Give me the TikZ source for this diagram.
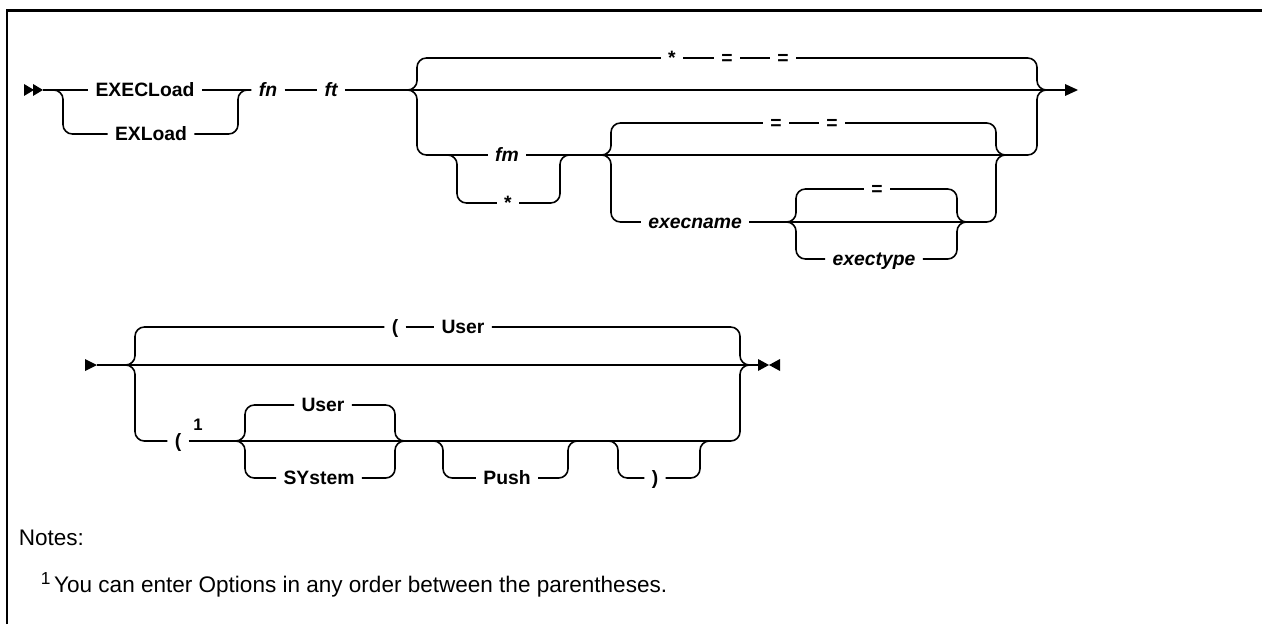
\documentclass[tikz,border=0pt]{standalone}
\usepackage{fontspec}
\setmainfont{Liberation Sans}
\begin{document}
\begin{tikzpicture}[x=0.75pt,y=-0.75pt,line width=1.2pt,
  rc/.style={rounded corners=7pt},
  kw/.style={font=\fontsize{14.5}{16}\selectfont\bfseries, inner xsep=5pt, inner ysep=0pt, text height=10.4pt, text depth=0pt},
  kwi/.style={kw, font=\fontsize{14.5}{16}\selectfont\bfseries\itshape},
  supnum/.style={font=\fontsize{12.5}{14}\selectfont\bfseries, inner sep=0pt},
  notetxt/.style={font=\fontsize{16.9}{20}\selectfont, inner sep=0pt, anchor=base west},
  tipfill/.style={fill=black, draw=none}]
\useasboundingbox (0,0) rectangle (1262,624);
% frame
\draw[line width=2pt] (7,624) -- (7,10.5) -- (1262,10.5);

% ===== row 1 =====
\fill[tipfill] (24,84) -- (34,90) -- (24,96) -- cycle;
\fill[tipfill] (33,84) -- (43,90) -- (33,96) -- cycle;
\coordinate (s1) at (43,90);
\coordinate (j1) at (54,90);
\node[kw] (execload) at (145,90) {EXECLoad};
\node[kw] (exload) at (151,134) {EXLoad};
\node[kwi] (fn) at (268,90) {fn};
\node[kwi] (ft) at (331,90) {ft};
\draw (s1) -- (execload.west);
\draw[rc] (j1) -| (63,134) -- (exload.west);
\draw (execload.east) -- (fn.west);
\draw[rc] (exload.east) -| (238,90) -- (fn.west);
\draw (fn.east) -- (ft.west);

% stack A
\coordinate (jA) at (407,90);
\coordinate (mA) at (1047,90);
\draw (ft.east) -- (jA) -- (mA) -- (1065,90);
\fill[tipfill] (1065,84) -- (1078,90) -- (1065,96) -- cycle;
\node[kw] (aStar) at (672,58) {*};
\node[kw] (aEq1) at (727,58) {=};
\node[kw] (aEq2) at (783,58) {=};
\draw[rc] (jA) -| (417,58) -- (aStar.west);
\draw (aStar.east) -- (aEq1.west);
\draw (aEq1.east) -- (aEq2.west);
\draw[rc] (aEq2.east) -| (1037,90) -- (mA);

% stack D (fm / *)
\coordinate (jD) at (447,155);
\coordinate (mD) at (570,155);
\node[kwi] (fm) at (507,155) {fm};
\node[kw] (dStar) at (508,203) {*};
\draw[rc] (jA) -| (417,155) -- (jD);
\draw (jD) -- (fm.west);
\draw (fm.east) -- (mD);
\draw[rc] (jD) -| (457,203) -- (dStar.west);
\draw[rc] (dStar.east) -| (560,155) -- (mD);

% stack B
\coordinate (jB) at (601,155);
\coordinate (mB) at (1005,155);
\draw (mD) -- (jB) -- (mB);
\node[kw] (bEq1) at (776,123) {=};
\node[kw] (bEq2) at (832,123) {=};
\draw[rc] (jB) -| (611,123) -- (bEq1.west);
\draw (bEq1.east) -- (bEq2.west);
\draw[rc] (bEq2.east) -| (996,155) -- (mB);
\node[kwi] (execname) at (695,222) {execname};
\draw[rc] (jB) -| (611,222) -- (execname.west);

% stack C
\coordinate (jC) at (787,222);
\coordinate (mC) at (966,222);
\draw (execname.east) -- (jC) -- (mC);
\node[kw] (cEq) at (877,189) {=};
\node[kwi] (exectype) at (874,259) {exectype};
\draw[rc] (jC) -| (796,189) -- (cEq.west);
\draw[rc] (cEq.east) -| (957,222) -- (mC);
\draw[rc] (jC) -| (796,259) -- (exectype.west);
\draw[rc] (exectype.east) -| (957,222) -- (mC);
\draw[rc] (mC) -| (996,155) -- (mB);
\draw[rc] (mB) -| (1037,90) -- (mA);

% ===== row 2 =====
\fill[tipfill] (85,359) -- (97,365) -- (85,371) -- cycle;
\coordinate (s2) at (97,365);
\coordinate (j2) at (126,365);
\coordinate (m2) at (748,365);
\draw (s2) -- (j2) -- (m2) -- (758,365);
\fill[tipfill] (758,359) -- (769,365) -- (758,371) -- cycle;
\fill[tipfill] (780,359) -- (769,365) -- (780,371) -- cycle;
\node[kw] (lp1) at (395,327) {(};
\node[kw] (user1) at (463,327) {User};
\draw[rc] (j2) -| (135,327) -- (lp1.west);
\draw (lp1.east) -- (user1.west);
\draw[rc] (user1.east) -| (740,365) -- (m2);

\node[kw] (lp2) at (178,441) {(};
\node[supnum] (sup1) at (198,425) {1};
\draw[rc] (j2) -| (135,441) -- (lp2.west);
\coordinate (jE) at (236,441);
\coordinate (mE) at (404,441);
\draw (lp2.east) -- (jE) -- (mE);
\node[kw] (user2) at (323,405) {User};
\node[kw] (system) at (319,478) {SYstem};
\draw[rc] (jE) -| (245,405) -- (user2.west);
\draw[rc] (user2.east) -| (395,441) -- (mE);
\draw[rc] (jE) -| (245,478) -- (system.west);
\draw[rc] (system.east) -| (395,441) -- (mE);

\coordinate (jF) at (434,441);
\coordinate (mF) at (577,441);
\node[kw] (push) at (507,478) {Push};
\draw (mE) -- (jF) -- (mF);
\draw[rc] (jF) -| (443,478) -- (push.west);
\draw[rc] (push.east) -| (568,441) -- (mF);

\coordinate (jG) at (609,441);
\coordinate (mG) at (709,441);
\node[kw] (rp) at (655,478) {)};
\draw (mF) -- (jG) -- (mG);
\draw[rc] (jG) -| (618,478) -- (rp.west);
\draw[rc] (rp.east) -| (700,441) -- (mG);
\draw[rc] (mG) -| (740,365) -- (m2);

% ===== notes =====
\node[notetxt] (notes) at (18,545) {Notes:};
\node[notetxt] (note1) at (40,592) {{\fontsize{13}{14}\selectfont\raisebox{0.45em}{1}}\,You can enter Options in any order between the parentheses.};
\end{tikzpicture}
\end{document}
